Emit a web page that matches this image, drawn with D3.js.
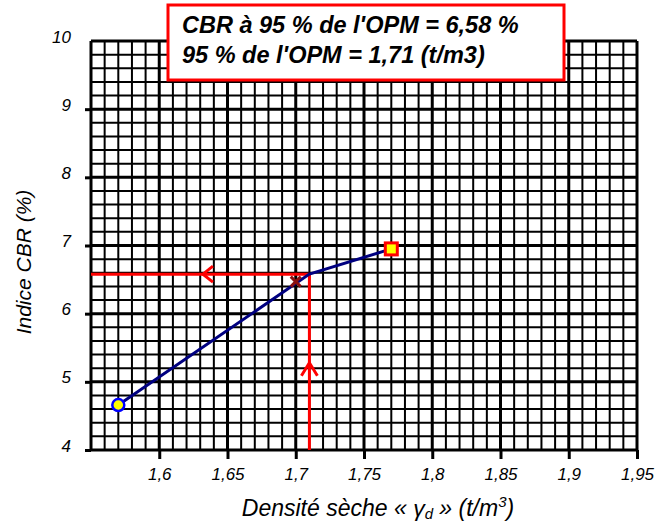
<!DOCTYPE html>
<html><head><meta charset="utf-8">
<script src="https://cdn.jsdelivr.net/npm/d3@7/dist/d3.min.js"></script>
<style>
body{margin:0;background:#fff;}
text{font-family:"Liberation Sans",Arial,sans-serif;}
</style></head>
<body><svg id="c" width="665" height="523"></svg>
<script>
// ---- data ----
const xTickValues = [1.6, 1.65, 1.7, 1.75, 1.8, 1.85, 1.9, 1.95];
const xTickLabels = ["1,6", "1,65", "1,7", "1,75", "1,8", "1,85", "1,9", "1,95"];
const yTickValues = [4, 5, 6, 7, 8, 9, 10];
const yTickLabels = ["4", "5", "6", "7", "8", "9", "10"];
const curveX = [1.57, 1.71, 1.77];
const curveY = [4.66, 6.58, 6.95];
const crossPoint = [1.70, 6.47];
const cbrAt95 = 6.58;
const density95 = 1.71;
const arrowLeftX = 1.632;
const arrowUpY = 5.28;
const infoLines = ["CBR à 95 % de l'OPM = 6,58 %", "95 % de l'OPM = 1,71 (t/m3)"];

// ---- chart ----
const svg = d3.select("#c");
const x = d3.scaleLinear().domain([1.55, 1.95]).range([91, 637]);
const y = d3.scaleLinear().domain([4, 10]).range([450, 41]);

const grid = svg.append("g");
const minorX = d3.range(0, 41).map(i => 1.55 + i * 0.01);
const minorY = d3.range(0, 31).map(i => 4 + i * 0.2);
const isMajorX = v => Math.abs(Math.round(v * 20) - v * 20) < 1e-6;
const isMajorY = v => Math.abs(Math.round(v) - v) < 1e-6;

grid.selectAll("line.vx").data(minorX).join("line")
  .attr("x1", d => x(d)).attr("x2", d => x(d))
  .attr("y1", y(10)).attr("y2", y(4))
  .attr("stroke", "#000").attr("stroke-width", d => isMajorX(d) ? 3 : 2);
grid.selectAll("line.hy").data(minorY).join("line")
  .attr("y1", d => y(d)).attr("y2", d => y(d))
  .attr("x1", x(1.55)).attr("x2", x(1.95))
  .attr("stroke", "#000").attr("stroke-width", d => isMajorY(d) ? 3 : 2);

// axes ticks
const xAxis = d3.axisBottom(x).tickValues(xTickValues).tickSize(9)
  .tickFormat((d, i) => xTickLabels[i]);
const gx = svg.append("g").attr("transform", `translate(0,${y(4)})`).call(xAxis);
gx.select(".domain").remove();
gx.selectAll(".tick line").attr("stroke", "#000").attr("stroke-width", 3);
gx.selectAll(".tick text").attr("font-size", 17).attr("font-style", "italic")
  .attr("fill", "#000").attr("y", 30).attr("dy", 0);

const yAxis = d3.axisLeft(y).tickValues(yTickValues).tickSize(6)
  .tickFormat((d, i) => yTickLabels[i]);
const gy = svg.append("g").attr("transform", `translate(${x(1.55)},0)`).call(yAxis);
gy.select(".domain").remove();
gy.selectAll(".tick line").attr("stroke", "#000").attr("stroke-width", 3)
  .attr("x2", d => d === 10 ? 0 : -6);
gy.selectAll(".tick text").attr("font-size", 17).attr("font-style", "italic")
  .attr("fill", "#000").attr("x", -20).attr("dy", 1);

// red guide lines
const red = "#ff0000";
svg.append("line").attr("x1", x(density95)).attr("x2", x(density95))
  .attr("y1", y(4)).attr("y2", y(cbrAt95)).attr("stroke", red).attr("stroke-width", 3);
svg.append("line").attr("x1", x(1.55)).attr("x2", x(density95))
  .attr("y1", y(cbrAt95)).attr("y2", y(cbrAt95)).attr("stroke", red).attr("stroke-width", 3);
// arrowheads
const ax = x(arrowLeftX), ay = y(cbrAt95);
svg.append("path").attr("d", `M${ax+10},${ay-8} L${ax},${ay} L${ax+10},${ay+8}`)
  .attr("fill", "none").attr("stroke", red).attr("stroke-width", 3);
const ux = x(density95), uy = y(arrowUpY);
svg.append("path").attr("d", `M${ux-8},${uy+13} L${ux},${uy} L${ux+8},${uy+13}`)
  .attr("fill", "none").attr("stroke", red).attr("stroke-width", 3);

// curve
const pts = curveX.map((v, i) => [v, curveY[i]]);
svg.append("path").datum(pts)
  .attr("d", d3.line().x(d => x(d[0])).y(d => y(d[1])))
  .attr("fill", "none").attr("stroke", "#000080").attr("stroke-width", 3);

// cross marker
const cx = x(crossPoint[0]), cy = y(crossPoint[1]);
svg.append("path").attr("d", `M${cx-5},${cy-5} L${cx+5},${cy+5} M${cx+5},${cy-5} L${cx-5},${cy+5}`)
  .attr("stroke", "#8b1010").attr("stroke-width", 3);

// start circle
svg.append("circle").attr("cx", x(curveX[0])).attr("cy", y(curveY[0])).attr("r", 6)
  .attr("fill", "#ffff00").attr("stroke", "#0000ff").attr("stroke-width", 2.5);
// end square
svg.append("rect").attr("x", x(curveX[2]) - 6).attr("y", y(curveY[2]) - 6)
  .attr("width", 12).attr("height", 12)
  .attr("fill", "#ffff00").attr("stroke", red).attr("stroke-width", 3);

// info box
svg.append("rect").attr("x", 168).attr("y", 5).attr("width", 396).attr("height", 75)
  .attr("fill", "#fff").attr("stroke", red).attr("stroke-width", 3);
svg.selectAll("text.info").data(infoLines).join("text")
  .attr("x", 182).attr("y", (d, i) => 33 + i * 30)
  .attr("font-size", 23.5).attr("font-weight", "bold").attr("font-style", "italic")
  .attr("fill", "#000").text(d => d);

// axis titles
const xt = svg.append("text").attr("x", 378).attr("y", 516).attr("text-anchor", "middle")
  .attr("font-size", 23).attr("font-style", "italic").attr("fill", "#000");
xt.append("tspan").text("Densité sèche « γ");
xt.append("tspan").attr("font-size", 15).attr("dy", 3).text("d");
xt.append("tspan").attr("dy", -3).text(" » (t/m");
xt.append("tspan").attr("font-size", 15).attr("dy", -9).text("3");
xt.append("tspan").attr("dy", 9).text(")");

svg.append("text").attr("transform", "translate(31,262) rotate(-90)")
  .attr("text-anchor", "middle").attr("font-size", 21).attr("font-style", "italic")
  .attr("fill", "#000").text("Indice CBR (%)");
</script></body></html>
